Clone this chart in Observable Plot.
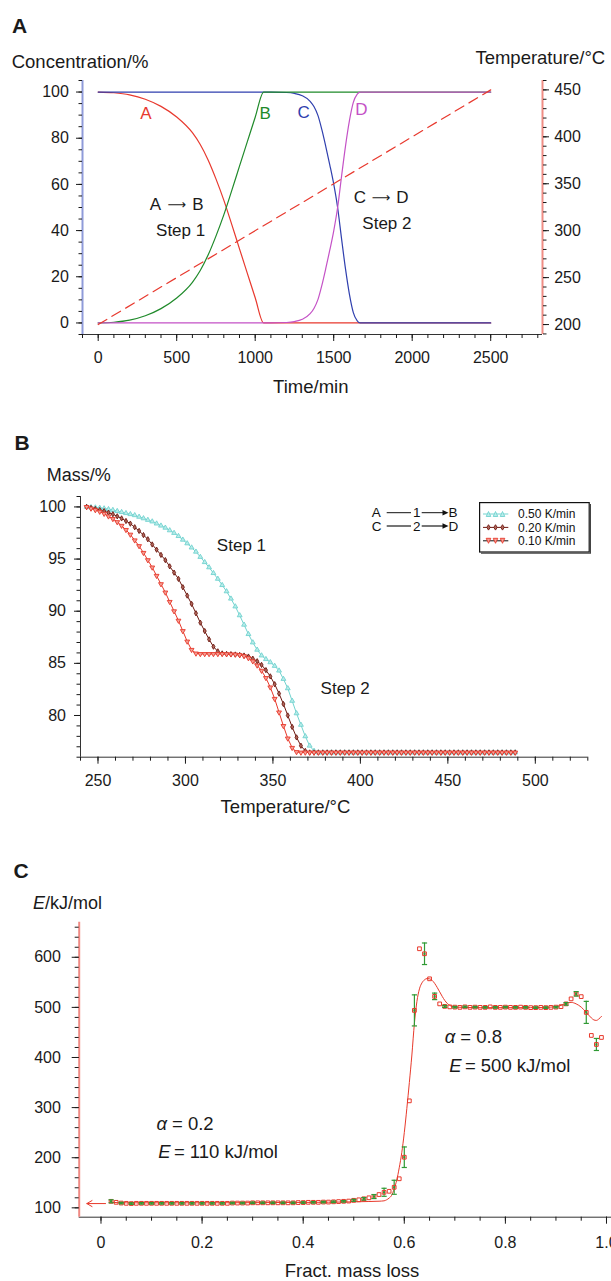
<!DOCTYPE html>
<html><head><meta charset="utf-8">
<script src="https://cdn.jsdelivr.net/npm/d3@7"></script>
<script src="https://cdn.jsdelivr.net/npm/@observablehq/plot@0.6"></script>
<style>
html,body{margin:0;padding:0;background:#fff;}
#page{position:relative;width:611px;height:1281px;overflow:hidden;background:#fff;font-family:"Liberation Sans",Arial,Helvetica,sans-serif;color:#1a1a1a;}
.abs{position:absolute;white-space:nowrap;line-height:1;}
</style></head><body><div id="page"></div>
<script>
// ---------------- Panel A data ----------------
const timeAB = [0,100,200,300,400,500,600,650,700,750,800,850,900,950,1000,1054,2500];
const concA  = [100,99.7,98.8,96.9,93.8,89.2,82.4,77.3,70.6,62.4,53.2,42.8,32.1,21.5,10.9,0,0];
const concB  = [0,0.3,1.2,3.1,6.2,10.8,17.6,22.7,29.4,37.6,46.8,57.2,67.9,78.5,89.1,100,100];
const timeCD = [0,1100,1200,1250,1300,1350,1375,1400,1425,1450,1475,1500,1525,1550,1575,1600,1625,1650,1668,2500];
const concC  = [100,100,99.8,99.4,98.4,96.0,93.6,89.8,83.6,76.3,68.5,60.2,50,36.5,23.5,12.5,4.5,0.9,0,0];
const concD  = [0,0,0.2,0.6,1.6,4.0,6.4,10.2,16.4,23.7,31.5,39.8,50,63.5,76.5,87.5,95.5,99.1,100,100];
const tempTime = [0,2500];
const tempValue = [200,450];
const curveNames = ["A","B","C","D"];
const curveLabelTime = [304,1064,1308,1677];
const curveLabelConc = [90.8,90.8,91,92.3];
const reactLeft = ["A","C"];
const reactRight = ["B","D"];
const reactTime = [500,1802];
const reactConc = [51.2,54.1];
const stepAText = ["Step 1","Step 2"];
const stepATime = [525,1839];
const stepAConc = [40,43];
const ticksConc = [0,20,40,60,80,100];
const ticksTime = [0,500,1000,1500,2000,2500];
const ticksTemp = [200,250,300,350,400,450];

// ---------------- Panel B data ----------------
const tempB = [243.5,246,248.5,251,253.5,256,258.5,261,263.5,266,
 268.5,271,273.5,276,278.5,281,283.5,286,288.5,291,
 293.5,296,298.5,301,303.5,306,308.5,311,313.5,316,
 318.5,321,323.5,326,328.5,331,333.5,336,338.5,341,
 343.5,346,348.5,351,353.5,356,358.5,361,363.5,366,
 368.5,371,373.5,376,378.5,381,383.5,386,388.5,391,
 393.5,396,398.5,401,403.5,406,408.5,411,413.5,416,
 418.5,421,423.5,426,428.5,431,433.5,436,438.5,441,
 443.5,446,448.5,451,453.5,456,458.5,461,463.5,466,
 468.5,471,473.5,476,478.5,481,483.5,486,488.5];
const mass050 = [100.0,99.97,99.94,99.9,99.85,99.78,99.7,99.6,99.5,99.4,
 99.3,99.2,99.05,98.9,98.75,98.6,98.4,98.2,98.0,97.75,
 97.5,97.2,96.85,96.5,96.1,95.7,95.2,94.7,94.2,93.65,
 93.1,92.5,91.9,91.2,90.45,89.6,88.7,87.8,87.0,86.3,
 85.75,85.4,85.1,84.75,84.3,83.5,82.6,81.4,80.2,79.1,
 78.0,77.1,76.6,76.45,76.45,76.45,76.45,76.45,76.45,76.45,
 76.45,76.45,76.45,76.45,76.45,76.45,76.45,76.45,76.45,76.45,
 76.45,76.45,76.45,76.45,76.45,76.45,76.45,76.45,76.45,76.45,
 76.45,76.45,76.45,76.45,76.45,76.45,76.45,76.45,76.45,76.45,
 76.45,76.45,76.45,76.45,76.45,76.45,76.45,76.45,76.45];
const mass020 = [100.0,99.9,99.8,99.7,99.6,99.45,99.3,99.1,98.9,98.65,
 98.4,98.05,97.7,97.3,96.9,96.4,95.9,95.4,94.9,94.3,
 93.7,93.1,92.3,91.5,90.7,89.8,88.9,88.1,87.3,86.6,
 86.15,85.95,85.9,85.88,85.85,85.8,85.75,85.65,85.45,85.2,
 84.85,84.35,83.75,83.0,82.1,81.1,80.0,78.9,77.9,77.1,
 76.6,76.45,76.45,76.45,76.45,76.45,76.45,76.45,76.45,76.45,
 76.45,76.45,76.45,76.45,76.45,76.45,76.45,76.45,76.45,76.45,
 76.45,76.45,76.45,76.45,76.45,76.45,76.45,76.45,76.45,76.45,
 76.45,76.45,76.45,76.45,76.45,76.45,76.45,76.45,76.45,76.45,
 76.45,76.45,76.45,76.45,76.45,76.45,76.45,76.45,76.45];
const mass010 = [100.0,99.85,99.7,99.55,99.35,99.1,98.85,98.55,98.2,97.8,
 97.35,96.8,96.25,95.6,94.9,94.2,93.4,92.6,91.8,90.9,
 90.0,89.1,88.1,87.1,86.3,85.95,85.9,85.9,85.9,85.9,
 85.9,85.9,85.88,85.87,85.85,85.8,85.7,85.5,85.2,84.8,
 84.3,83.6,82.7,81.6,80.3,79.0,77.8,76.9,76.5,76.45,
 76.45,76.45,76.45,76.45,76.45,76.45,76.45,76.45,76.45,76.45,
 76.45,76.45,76.45,76.45,76.45,76.45,76.45,76.45,76.45,76.45,
 76.45,76.45,76.45,76.45,76.45,76.45,76.45,76.45,76.45,76.45,
 76.45,76.45,76.45,76.45,76.45,76.45,76.45,76.45,76.45,76.45,
 76.45,76.45,76.45,76.45,76.45,76.45,76.45,76.45,76.45];
const stepBText = ["Step 1","Step 2"];
const stepBTemp = [332,391.3];
const stepBMass = [96.27,82.63];
const ticksMass = [80,85,90,95,100];
const ticksTempB = [250,300,350,400,450,500];
const legendLabels = ["0.50 K/min","0.20 K/min","0.10 K/min"];

// ---------------- Panel C data ----------------
const fracLoss = [0.02,0.03,0.04,0.05,0.06,0.07,0.08,0.09,0.10,0.11,
 0.12,0.13,0.14,0.15,0.16,0.17,0.18,0.19,0.20,0.21,
 0.22,0.23,0.24,0.25,0.26,0.27,0.28,0.29,0.30,0.31,
 0.32,0.33,0.34,0.35,0.36,0.37,0.38,0.39,0.40,0.41,
 0.42,0.43,0.44,0.45,0.46,0.47,0.48,0.49,0.50,0.51,
 0.52,0.53,0.54,0.55,0.56,0.57,0.58,0.59,0.60,0.61,
 0.62,0.63,0.64,0.65,0.66,0.67,0.68,0.69,0.70,0.71,
 0.72,0.73,0.74,0.75,0.76,0.77,0.78,0.79,0.80,0.81,
 0.82,0.83,0.84,0.85,0.86,0.87,0.88,0.89,0.90,0.91,
 0.92,0.93,0.94,0.95,0.96,0.97,0.98,0.99];
const energy = [113,111,109.5,109,108.5,109,109,109,109,109,
 109,109,109,109,109,109,109,109,109,109,
 109,109,109,109,109.5,109.5,109.5,109.5,110,110,
 110,110,110,110,110,110,110,110.5,110.5,111,
 111,111,111.5,111.5,112,112.5,113,113.5,115,116,
 118,120,122.5,126.5,131,133,141,158,201,313.5,
 494,617,607,557,522,507,502,501,500.5,500,
 501,500,500.5,500,500,501,500,500,500.5,500,
 500,500.5,500,499.5,499.5,500,499.5,500,500.5,501.5,
 507,517,527,521.5,490,444,426,440];
const errFrac = [0.02,0.04,0.06,0.08,0.10,0.12,0.14,0.16,0.18,0.20,
 0.22,0.24,0.26,0.28,0.30,0.32,0.34,0.36,0.38,0.40,
 0.42,0.44,0.46,0.48,0.50,0.52,0.54,0.56,0.58,0.60,
 0.62,0.64,0.66,0.68,0.70,0.72,0.74,0.76,0.78,0.80,
 0.82,0.84,0.86,0.88,0.90,0.92,0.94,0.96,0.98];
const errHalf = [3,1.5,1.5,1.5,1.5,1.5,1.5,1.5,1.5,1.5,
 1.5,1.5,1.5,1.5,1.5,1.5,1.5,1.5,1.5,1.5,
 1.5,1.5,1.5,1.5,2,2.5,4,8,14,20.5,
 31,21.5,6.5,2,1.5,1.5,1.5,1.5,1.5,1.5,
 1.5,1.5,1.5,1.5,1.5,2.5,4.5,22,12];
const fitFrac = [0.02,0.05,0.1,0.2,0.3,0.4,0.45,0.5,0.53,0.55,0.56,0.565,0.57,0.575,0.58,0.585,0.59,0.595,0.6,0.605,0.61,0.615,0.62,0.625,0.63,0.635,0.64,0.645,0.65,0.655,0.66,0.665,0.67,0.675,0.68,0.685,0.69,0.695,0.7,0.75,0.8,0.85,0.88,0.89,0.9,0.91,0.92,0.93,0.94,0.95,0.96,0.97,0.975,0.98,0.985,0.99];
const fitE = [111,110,110,110,110.3,110.8,111.2,112,112.6,113.2,114,116,119.5,125,138,155,180,210,250,298,350,405,468,512,537,549,555,557.5,557,554,548,540,531,522,514,508,504,501.5,500.5,499.5,499.5,499.5,500,500.5,501.5,504,508,510,507,500.5,490,479,475,474,477,482];
const arrowFrom = [0.009], arrowTo = [-0.028], arrowE = [108.5];
const annSym  = ["\u03b1","E","\u03b1","E"];
const annRest = ["= 0.2","= 110 kJ/mol","= 0.8","= 500 kJ/mol"];
const annFrac = [0.1096,0.1134,0.680,0.689];
const annE    = [267.6,211,440.4,382];
const ticksE = [100,200,300,400,500,600];
const ticksFrac = [0,0.2,0.4,0.6,0.8,1.0];

// ---------------- helpers ----------------
const FONT = '"Liberation Sans", Arial, Helvetica, sans-serif';
const page = document.getElementById("page");
const baseStyle = {fontFamily: FONT, fontSize: "16px", color: "#1a1a1a", background: "transparent", overflow: "visible"};
function placeSvg(node, top) {
  node.style.position = "absolute"; node.style.left = "0px"; node.style.top = top + "px";
  page.appendChild(node);
}
function addText(html, left, baseline, size, opts = {}) {
  const d = document.createElement("div");
  d.className = "abs";
  d.innerHTML = html;
  d.style.fontSize = size + "px";
  d.style.top = (baseline - 0.8465 * size) + "px";
  d.style.left = left + "px";
  if (opts.center) d.style.transform = "translateX(-50%)";
  if (opts.bold) d.style.fontWeight = "bold";
  page.appendChild(d);
}
const blank = () => "";

// ---------------- Panel A ----------------
const colA = "#e8392e", colB = "#1f8a2a", colC = "#2f3fae", colD = "#c452c6";
const rowsAB = timeAB.map((t, i) => ({t, A: concA[i], B: concB[i]}));
const rowsCD = timeCD.map((t, i) => ({t, C: concC[i], D: concD[i]}));
const curveRows = curveNames.map((n, i) => ({n, t: curveLabelTime[i], v: curveLabelConc[i], c: [colA, colB, colC, colD][i]}));
const reactRows = reactLeft.map((l, i) => ({l, r: reactRight[i], t: reactTime[i], v: reactConc[i]}));
const stepARows = stepAText.map((s, i) => ({s, t: stepATime[i], v: stepAConc[i]}));
const tempRows = tempTime.map((t, i) => ({t, T: tempValue[i]}));
const xDomA = [-100, 2830], yDomA = [-5, 105], yDomT = [189.4, 460];
const dimA = {width: 611, height: 400, marginTop: 80, marginRight: 69, marginBottom: 66, marginLeft: 82};

const plotA = Plot.plot({
  ...dimA,
  x: {domain: xDomA, axis: null}, y: {domain: yDomA, axis: null},
  color: {type: "identity"},
  style: baseStyle,
  marks: [
    Plot.ruleX([xDomA[0]], {stroke: "#8f9bd9", strokeWidth: 2}),
    Plot.ruleY([yDomA[0]], {stroke: "#333", strokeWidth: 1}),
    Plot.axisY({ticks: d3.range(-5, 106, 5), tickSize: 3.5, tickFormat: blank, label: null}),
    Plot.axisY({ticks: ticksConc, tickSize: 6, tickPadding: 7.6, tickFormat: d => String(d), label: null}),
    Plot.axisX({ticks: d3.range(-100, 2801, 100), tickSize: 4, tickFormat: blank, label: null}),
    Plot.axisX({ticks: ticksTime, tickSize: 7, tickPadding: 10, tickFormat: d => String(d), label: null}),
    Plot.line(rowsAB, {x: "t", y: "A", stroke: colA, strokeWidth: 1.2, curve: "monotone-x"}),
    Plot.line(rowsCD, {x: "t", y: "C", stroke: colC, strokeWidth: 1.2, curve: "monotone-x"}),
    Plot.line(rowsAB, {x: "t", y: "B", stroke: colB, strokeWidth: 1.2, curve: "monotone-x"}),
    Plot.line(rowsCD, {x: "t", y: "D", stroke: colD, strokeWidth: 1.2, curve: "monotone-x"}),
    Plot.text(curveRows, {x: "t", y: "v", text: "n", fill: "c", fontSize: 17}),
    Plot.text(reactRows, {x: "t", y: "v", text: "l", dx: -21.3, fill: "#1a1a1a", fontSize: 17}),
    Plot.text(reactRows, {x: "t", y: "v", text: () => "\u27f6", fontFamily: "DejaVu Sans", fill: "#1a1a1a", fontSize: 13}),
    Plot.text(reactRows, {x: "t", y: "v", text: "r", dx: 21.3, fill: "#1a1a1a", fontSize: 17}),
    Plot.text(stepARows, {x: "t", y: "v", text: "s", fill: "#1a1a1a", fontSize: 17})
  ]
});
placeSvg(plotA, 0);

const plotAT = Plot.plot({
  ...dimA,
  x: {domain: xDomA, axis: null}, y: {domain: yDomT, axis: null},
  style: baseStyle,
  marks: [
    Plot.ruleX([xDomA[1]], {stroke: "#ef8d84", strokeWidth: 2}),
    Plot.axisY({anchor: "right", ticks: d3.range(190, 461, 10), tickSize: 3.5, tickFormat: blank, label: null}),
    Plot.axisY({anchor: "right", ticks: ticksTemp, tickSize: 6, tickPadding: 5.7, tickFormat: d => String(d), label: null}),
    Plot.line(tempRows, {x: "t", y: "T", stroke: colA, strokeWidth: 1.2, strokeDasharray: "10,6"})
  ]
});
plotAT.style.pointerEvents = "none";
placeSvg(plotAT, 0);

addText("A", 12, 33, 21, {bold: true});
addText("Concentration/%", 11.7, 68.3, 18.5);
addText("Temperature/\u00b0C", 475.4, 65, 18.5);
addText("Time/min", 310.8, 393.3, 18.5, {center: true});

// ---------------- Panel B ----------------
const rowsB = tempB.map((T, i) => ({T, m050: mass050[i], m020: mass020[i], m010: mass010[i]}));
const stepBRows = stepBText.map((s, i) => ({s, T: stepBTemp[i], m: stepBMass[i]}));
const xDomB = [240, 530], yDomB = [76, 101];
const cyan = "#72d3cf", cyanFill = "#b9ecea", dred = "#6e1a12", dredFill = "#b0685c", red = "#e8392b", redFill = "#f4a096";

const plotB = Plot.plot({
  width: 611, height: 410, marginTop: 76, marginRight: 23.7, marginBottom: 73.3, marginLeft: 80,
  x: {domain: xDomB, axis: null}, y: {domain: yDomB, axis: null},
  style: baseStyle,
  marks: [
    Plot.ruleX([xDomB[0]], {stroke: "#333", strokeWidth: 1}),
    Plot.ruleY([yDomB[0]], {stroke: "#333", strokeWidth: 1}),
    Plot.axisY({ticks: d3.range(76, 101.5, 1), tickSize: 3.5, tickFormat: blank, label: null}),
    Plot.axisY({ticks: ticksMass, tickSize: 6, tickPadding: 8.5, tickFormat: d => String(d), label: null}),
    Plot.axisX({ticks: d3.range(240, 531, 10), tickSize: 4, tickFormat: blank, label: null}),
    Plot.axisX({ticks: ticksTempB, tickSize: 7, tickPadding: 10, tickFormat: d => String(d), label: null}),
    Plot.line(rowsB, {x: "T", y: "m050", stroke: cyan, strokeWidth: 1}),
    Plot.dot(rowsB, {x: "T", y: "m050", symbol: "triangle", r: 1.8, stroke: cyan, fill: cyanFill, strokeWidth: 0.9}),
    Plot.line(rowsB, {x: "T", y: "m020", stroke: dred, strokeWidth: 1}),
    Plot.dot(rowsB, {x: "T", y: "m020", symbol: "diamond", r: 1.6, stroke: dred, fill: dredFill, strokeWidth: 0.9}),
    Plot.line(rowsB, {x: "T", y: "m010", stroke: red, strokeWidth: 1}),
    Plot.dot(rowsB, {x: "T", y: "m010", symbol: "triangle", rotate: 180, r: 1.8, stroke: red, fill: redFill, strokeWidth: 0.9}),
    Plot.text(stepBRows, {x: "T", y: "m", text: "s", fill: "#1a1a1a", fontSize: 17})
  ]
});
placeSvg(plotB, 420);

addText("B", 14.5, 449.3, 21, {bold: true});
addText("Mass/%", 46.8, 481.7, 18);
addText("Temperature/\u00b0C", 285.5, 813.5, 18.5, {center: true});

// reaction scheme
const scheme = document.createElement("div");
scheme.className = "abs";
scheme.style.left = "368px"; scheme.style.top = "503px";
scheme.innerHTML = `<svg width="96" height="34" style="font-family:${FONT.replace(/"/g, "'")};font-size:13.5px;fill:#111">
 <text x="3.7" y="14.3">A</text>
 <line x1="18.7" y1="9.7" x2="43" y2="9.7" stroke="#111" stroke-width="1"/>
 <text x="45" y="14.3">1</text>
 <line x1="53.7" y1="9.7" x2="76" y2="9.7" stroke="#111" stroke-width="1"/>
 <polygon points="74.5,7 80.5,9.7 74.5,12.4" fill="#111"/>
 <text x="80.5" y="14.3">B</text>
 <text x="3.7" y="27.7">C</text>
 <line x1="18.7" y1="23" x2="43" y2="23" stroke="#666" stroke-width="1.8"/>
 <text x="45" y="27.7">2</text>
 <line x1="53.7" y1="23" x2="76" y2="23" stroke="#666" stroke-width="1.8"/>
 <polygon points="74.5,20.3 80.5,23 74.5,25.7" fill="#111"/>
 <text x="80.5" y="27.7">D</text>
</svg>`;
page.appendChild(scheme);

// legend
function tri(cx, cy, up, stroke, fill) {
  const h = 2.5;
  const pts = up ? `${cx-2.3},${cy+h} ${cx+2.3},${cy+h} ${cx},${cy-h}` : `${cx-2.3},${cy-h} ${cx+2.3},${cy-h} ${cx},${cy+h}`;
  return `<polygon points="${pts}" stroke="${stroke}" fill="${fill}" stroke-width="0.9"/>`;
}
function dia(cx, cy) {
  return `<polygon points="${cx},${cy-2.7} ${cx+1.7},${cy} ${cx},${cy+2.7} ${cx-1.7},${cy}" stroke="${dred}" fill="${dredFill}" stroke-width="0.9"/>`;
}
const legYs = [12, 25.4, 38.8];
const legRows = [
  {c: cyan, m: (x, y) => tri(x, y, true, cyan, cyanFill)},
  {c: dred, m: (x, y) => dia(x, y)},
  {c: "#111", m: (x, y) => tri(x, y, false, red, redFill)}
];
const legend = document.createElement("div");
legend.className = "abs";
legend.style.left = "479px"; legend.style.top = "502px";
legend.innerHTML = `<svg width="113" height="53" style="font-family:${FONT.replace(/"/g, "'")};font-size:12px;fill:#111">
 <rect x="0.6" y="0.6" width="109.6" height="49.4" fill="#fff" stroke="#111" stroke-width="1.2"/>
 <path d="M111.4,2 V51.2 H2" stroke="#444" stroke-width="1.2" fill="none"/>
 ${legRows.map((r, i) => `<line x1="4" y1="${legYs[i]}" x2="29.3" y2="${legYs[i]}" stroke="${r.c}" stroke-width="1"/>${[9.5,16.5,23.5].map(x => r.m(x, legYs[i])).join("")}<text x="39" y="${legYs[i] + 4.3}">${legendLabels[i]}</text>`).join("")}
</svg>`;
page.appendChild(legend);

// ---------------- Panel C ----------------
const rowsPts = fracLoss.map((x, i) => ({x, e: energy[i]}));
const rowsErr = errFrac.map((x, i) => ({x, e: energy[fracLoss.indexOf(x)], h: errHalf[i]}));
const rowsFit = fitFrac.map((x, i) => ({x, e: fitE[i]}));
const rowsArrow = arrowFrom.map((x1, i) => ({x1, x2: arrowTo[i], e: arrowE[i]}));
const rowsAnn = annSym.map((s, i) => ({s, r: annRest[i], x: annFrac[i], e: annE[i]}));
const xDomC = [-0.0431, 1.0099], yDomC = [81.3, 670];
const redC = "#e8392b", green = "#2f9a34";
const capSymbol = {draw(ctx, size) { const r = Math.sqrt(size / Math.PI); ctx.moveTo(-r, 0); ctx.lineTo(r, 0); }};

const plotC = Plot.plot({
  width: 611, height: 431, marginTop: 71.7, marginRight: 0, marginBottom: 64.3, marginLeft: 78.7,
  x: {domain: xDomC, axis: null}, y: {domain: yDomC, axis: null},
  style: baseStyle,
  marks: [
    Plot.ruleY([yDomC[0]], {stroke: "#333", strokeWidth: 1}),
    Plot.ruleX([xDomC[0]], {stroke: "#f08a84", strokeWidth: 2}),
    Plot.axisY({ticks: d3.range(100, 661, 20), tickSize: 4, tickFormat: blank, label: null}),
    Plot.axisY({ticks: ticksE, tickSize: 7, tickPadding: 11.3, tickFormat: d => String(d), label: null}),
    Plot.axisX({ticks: d3.range(0, 1.001, 0.05), tickSize: 4, tickFormat: blank, label: null}),
    Plot.axisX({ticks: ticksFrac, tickSize: 7, tickPadding: 12, tickFormat: d => d === 0 ? "0" : d.toFixed(1), label: null}),
    Plot.line(rowsFit, {x: "x", y: "e", stroke: redC, strokeWidth: 1, curve: "monotone-x"}),
    Plot.ruleX(rowsErr, {x: "x", y1: d => d.e - d.h, y2: d => d.e + d.h, stroke: green, strokeWidth: 1.2}),
    Plot.dot(rowsErr, {x: "x", y: "e", symbol: "square", r: 1.2, fill: green}),
    Plot.dot(rowsPts, {x: "x", y: "e", symbol: "square", r: 2.1, stroke: redC, fill: "none", strokeWidth: 1}),
    Plot.dot(rowsErr, {x: "x", y: d => d.e - d.h, symbol: capSymbol, r: 2.6, stroke: green, fill: "none", strokeWidth: 1.2}),
    Plot.dot(rowsErr, {x: "x", y: d => d.e + d.h, symbol: capSymbol, r: 2.6, stroke: green, fill: "none", strokeWidth: 1.2}),
    Plot.arrow(rowsArrow, {x1: "x1", y1: "e", x2: "x2", y2: "e", stroke: redC, strokeWidth: 1, headLength: 9}),
    Plot.text(rowsAnn, {x: "x", y: "e", text: "s", fontStyle: "italic", fontSize: 18.5, textAnchor: "start", fill: "#1a1a1a"}),
    Plot.text(rowsAnn, {x: "x", y: "e", text: "r", dx: 15.6, fontSize: 18.5, textAnchor: "start", fill: "#1a1a1a"})
  ]
});
placeSvg(plotC, 850);

addText("C", 13.5, 878, 21, {bold: true});
addText("<i>E</i>/kJ/mol", 33, 909.3, 18);
addText("Fract. mass loss", 352, 1278, 18.5, {center: true});
</script></body></html>
